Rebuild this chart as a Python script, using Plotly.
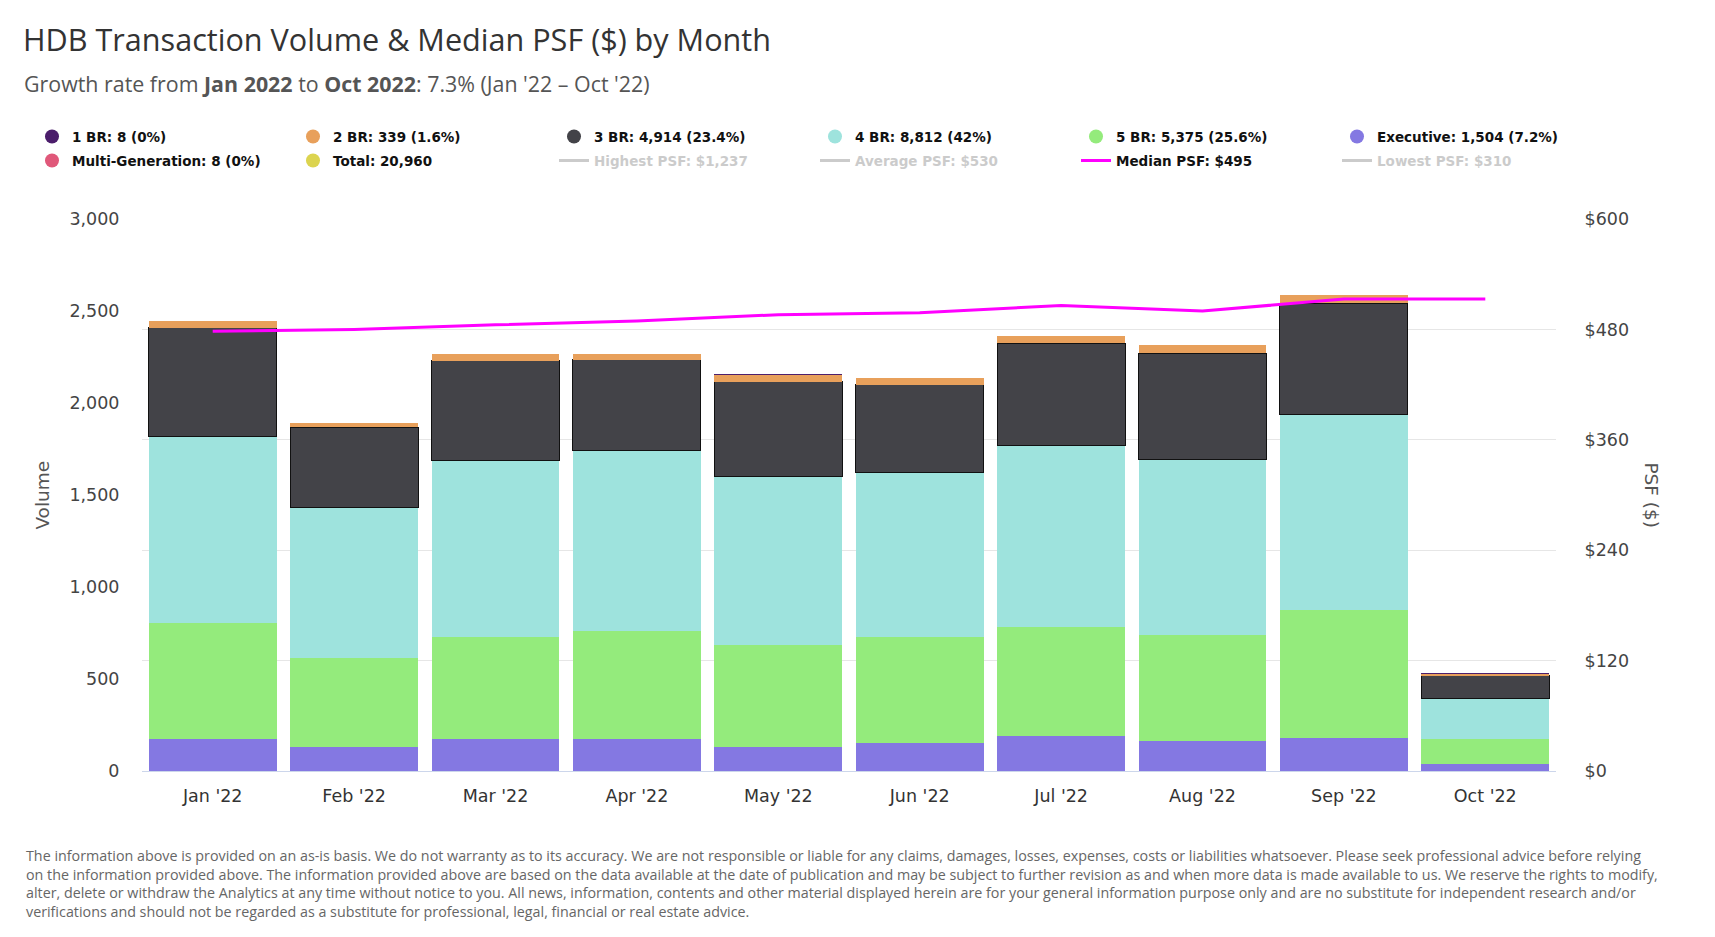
import plotly.graph_objects as go

# ---------------- data ----------------
months = ["Jan '22", "Feb '22", "Mar '22", "Apr '22", "May '22",
          "Jun '22", "Jul '22", "Aug '22", "Sep '22", "Oct '22"]

br1 = [1, 1, 0, 1, 1, 1, 0, 1, 1, 1]
br2 = [38, 25, 37, 31, 38, 37, 38, 44, 43, 8]
br3 = [589, 435, 542, 494, 518, 476, 553, 576, 606, 125]
br4 = [1016, 821, 957, 982, 915, 892, 987, 957, 1064, 221]
br5 = [630, 480, 556, 585, 550, 580, 592, 575, 692, 135]
executive = [173, 132, 173, 173, 132, 150, 191, 161, 179, 40]
multigen = [1, 0, 1, 1, 1, 0, 1, 1, 2, 0]
median_psf = [478, 480, 485, 489, 496, 498, 506, 500, 513, 513]

row1_labels = ["1 BR: 8 (0%)", "2 BR: 339 (1.6%)", "3 BR: 4,914 (23.4%)",
               "4 BR: 8,812 (42%)", "5 BR: 5,375 (25.6%)", "Executive: 1,504 (7.2%)"]
mg_label = "Multi-Generation: 8 (0%)"
total_label = "Total: 20,960"
highest_label = "Highest PSF: $1,237"
average_label = "Average PSF: $530"
median_label = "Median PSF: $495"
lowest_label = "Lowest PSF: $310"

vol_ticks = [0, 500, 1000, 1500, 2000, 2500, 3000]
psf_ticks = [0, 120, 240, 360, 480, 600]
psf_ticktext = ["$0", "$120", "$240", "$360", "$480", "$600"]

# ---------------- styles ----------------
C_1BR = "#4b1d6b"
C_1BR_BAR = "rgba(75,29,107,0.99)"
C_2BR = "#e8a05b"
C_3BR = "#434348"
C_4BR = "#9ee3dd"
C_5BR = "#94eb7c"
C_EXEC = "#8478e2"
C_MG = "#e0587a"
C_MG_BAR = "rgba(224,88,122,0.99)"
C_TOTAL = "#dcd44f"
C_MED = "#ff00ff"

OFF = 8  # page body margin
W, H = 1715 - 2 * OFF, 937 - 2 * OFF
L = 142 - OFF
T = 219 - OFF
PLOT_R = 1556 - OFF
PLOT_B = 771 - OFF
R = W - PLOT_R
B = H - PLOT_B
PW = PLOT_R - L
PH = PLOT_B - T


def px_x(sx):
    return (sx - OFF - L) / PW


def px_y(sy):
    return (PLOT_B - (sy - OFF)) / PH


fig = go.Figure()

# stacked bars, bottom to top
stack = [
    ("Multi-Generation", multigen, C_MG_BAR, 0, None),
    ("Executive", executive, C_EXEC, 0, None),
    ("5 BR", br5, C_5BR, 0, None),
    ("4 BR", br4, C_4BR, 0, None),
    ("3 BR", br3, C_3BR, 1, "#111111"),
    ("2 BR", br2, C_2BR, 0, None),
    ("1 BR", br1, C_1BR_BAR, 0, None),
]
for name, vals, col, lw, lc in stack:
    fig.add_trace(go.Bar(
        x=months, y=vals, name=name, legendgroup=name, showlegend=False,
        marker=dict(color=col, line=dict(width=lw, color=lc or "rgba(0,0,0,0)")),
        yaxis="y",
    ))

# legend row 1 (circle symbols)
for lab, col, grp in zip(row1_labels,
                         [C_1BR, C_2BR, C_3BR, C_4BR, C_5BR, C_EXEC],
                         ["1 BR", "2 BR", "3 BR", "4 BR", "5 BR", "Executive"]):
    fig.add_trace(go.Scatter(
        x=[None], y=[None], mode="markers", name=lab, legendgroup=grp,
        marker=dict(color=col, size=14), legend="legend", showlegend=True,
    ))

# legend row 2
fig.add_trace(go.Scatter(x=[None], y=[None], mode="markers", name=mg_label,
                         legendgroup="Multi-Generation",
                         marker=dict(color=C_MG, size=14), legend="legend2"))
fig.add_trace(go.Scatter(x=[None], y=[None], mode="markers", name=total_label,
                         marker=dict(color=C_TOTAL, size=14), legend="legend2"))
fig.add_trace(go.Scatter(x=[None], y=[None], mode="lines", yaxis="y2",
                         name='<span style="color:#999999">' + highest_label + '</span>',
                         line=dict(color="#999999", width=3),
                         visible="legendonly", legend="legend2"))
fig.add_trace(go.Scatter(x=[None], y=[None], mode="lines", yaxis="y2",
                         name='<span style="color:#999999">' + average_label + '</span>',
                         line=dict(color="#999999", width=3),
                         visible="legendonly", legend="legend2"))
fig.add_trace(go.Scatter(x=months, y=median_psf, mode="lines", yaxis="y2",
                         name=median_label, line=dict(color=C_MED, width=3),
                         legend="legend2"))
fig.add_trace(go.Scatter(x=[None], y=[None], mode="lines", yaxis="y2",
                         name='<span style="color:#999999">' + lowest_label + '</span>',
                         line=dict(color="#999999", width=3),
                         visible="legendonly", legend="legend2"))

legend_font = dict(family="DejaVu Sans", size=13.5, color="#111111", weight="bold")
common_leg = dict(orientation="h", xanchor="right", x=px_x(1598),
                  yanchor="middle", entrywidth=216, entrywidthmode="pixels",
                  font=legend_font, bgcolor="rgba(0,0,0,0)", traceorder="normal")

tick_font = dict(family="DejaVu Sans", size=17.5, color="#444444")

fig.update_layout(
    width=W, height=H, autosize=False,
    margin=dict(l=L, r=R, t=T, b=B, autoexpand=False),
    paper_bgcolor="white", plot_bgcolor="white",
    barmode="stack", bargap=0.095,
    title=dict(text="HDB Transaction Volume & Median PSF ($) by Month",
               xref="container", yref="container",
               x=(23 - OFF) / W, xanchor="left", y=1 - (40 - OFF) / H, yanchor="middle",
               font=dict(family="Open Sans", size=30.6, color="#333333")),
    legend=dict(common_leg, y=px_y(136.7)),
    legend2=dict(common_leg, y=px_y(160.7)),
    xaxis=dict(type="category", categoryorder="array", categoryarray=months,
               range=[-0.5, len(months) - 0.5],
               showline=True, linecolor="#ccd6eb", linewidth=1,
               showgrid=False, zeroline=False,
               ticks="outside", ticklen=9, tickcolor="rgba(0,0,0,0)",
               tickfont=dict(family="DejaVu Sans", size=17.5, color="#333333")),
    yaxis=dict(range=[0, 3000], tickvals=vol_ticks, tickformat=",",
               showgrid=False, zeroline=False, showline=False,
               ticks="outside", ticklen=18, tickcolor="rgba(0,0,0,0)",
               tickfont=tick_font),
    yaxis2=dict(range=[0, 600], tickvals=psf_ticks, ticktext=psf_ticktext,
                overlaying="y", side="right",
                showgrid=True, gridcolor="#e6e6e6", gridwidth=1, zeroline=False,
                ticks="outside", ticklen=24, tickcolor="rgba(0,0,0,0)",
                tickfont=tick_font),
    showlegend=True,
)

footer = ("The information above is provided on an as-is basis. We do not warranty as to its accuracy. "
          "We are not responsible or liable for any claims, damages, losses, expenses, costs or liabilities "
          "whatsoever. Please seek professional advice before relying<br>"
          "on the information provided above. The information provided above are based on the data available "
          "at the date of publication and may be subject to further revision as and when more data is made "
          "available to us. We reserve the rights to modify,<br>"
          "alter, delete or withdraw the Analytics at any time without notice to you. All news, information, "
          "contents and other material displayed herein are for your general information purpose only and are "
          "no substitute for independent research and/or<br>"
          "verifications and should not be regarded as a substitute for professional, legal, financial or "
          "real estate advice.")

annotations = [
    dict(text="Growth rate from <b>Jan 2022</b> to <b>Oct 2022</b>: 7.3% (Jan '22 – Oct '22)",
         xref="paper", yref="paper", x=px_x(22), y=px_y(83), xanchor="left", yanchor="middle",
         showarrow=False, font=dict(family="Open Sans", size=21.4, color="#555555")),
    dict(text="Volume", xref="paper", yref="paper", x=px_x(41.6), y=px_y(495),
         xanchor="center", yanchor="middle", textangle=-90, showarrow=False,
         font=dict(family="DejaVu Sans", size=18.5, color="#555555")),
    dict(text="PSF ($)", xref="paper", yref="paper", x=px_x(1651.6), y=px_y(495),
         xanchor="center", yanchor="middle", textangle=90, showarrow=False,
         font=dict(family="DejaVu Sans", size=18.5, color="#555555")),
    dict(text=footer, xref="paper", yref="paper", x=px_x(24), y=px_y(883),
         xanchor="left", yanchor="middle", align="left", showarrow=False,
         font=dict(family="Open Sans", size=14.3, color="#666666")),
]
fig.update_layout(annotations=annotations)

fig.write_html("out.html")
